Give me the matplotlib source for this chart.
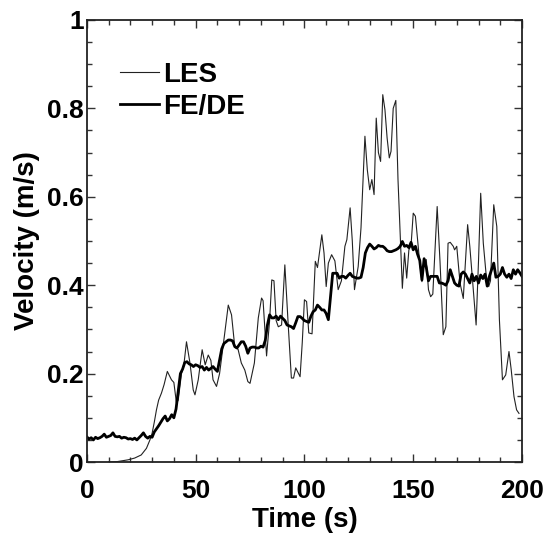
import matplotlib
matplotlib.use("Agg")
import matplotlib.pyplot as plt
from matplotlib.ticker import MultipleLocator, FixedLocator, FixedFormatter

les_t = [10, 14, 19, 22, 25, 27.4, 29, 30, 31, 32, 33, 34.3, 35.5, 37, 38.9, 40, 41.2, 42, 43.5, 44.7,
         45.8, 47.4, 48.9, 49.7, 51.2, 53, 54.4, 55.8, 57, 58, 59.6, 61, 62.7, 65, 66.5, 68, 69.5, 71,
         72.6, 74, 75, 77, 78.8, 80.3, 81, 82.6, 84, 85, 86, 87, 88, 89.5, 91, 92.6, 94, 95, 96, 98, 99,
         100, 101, 102, 103.5, 105, 106, 108, 109, 110, 111, 112.5, 114, 115.5, 117, 118.6, 119.5, 121,
         122, 123, 124.7, 126, 127.8, 128.9, 130, 131, 132, 133, 134, 135, 136, 137, 138, 139, 139.8,
         140.8, 142, 143, 145, 146, 147, 148, 149, 150, 151, 152.3, 153, 154, 155, 156, 157, 158, 159,
         161, 162.3, 163.8, 165, 166, 167, 168.4, 169, 170, 171.5, 173, 175, 176, 177.6, 178.9, 180,
         181, 182.2, 183.5, 184.7, 185.5, 187, 188.4, 189.6, 191, 192.5, 194, 195, 196.3, 197.5, 198.6]
les_v = [0.0, 0.001, 0.005, 0.009, 0.016, 0.031, 0.05, 0.065, 0.09, 0.118, 0.14, 0.156, 0.175, 0.205,
         0.186, 0.18, 0.133, 0.14, 0.20, 0.224, 0.272, 0.224, 0.163, 0.152, 0.186, 0.254, 0.22, 0.242,
         0.23, 0.186, 0.171, 0.2, 0.265, 0.355, 0.333, 0.26, 0.255, 0.224, 0.208, 0.182, 0.178, 0.224,
         0.326, 0.371, 0.365, 0.24, 0.32, 0.412, 0.41, 0.32, 0.306, 0.31, 0.446, 0.306, 0.19, 0.19,
         0.213, 0.193, 0.27, 0.367, 0.363, 0.292, 0.29, 0.454, 0.44, 0.514, 0.473, 0.397, 0.45, 0.469,
         0.455, 0.39, 0.41, 0.488, 0.503, 0.575, 0.50, 0.39, 0.442, 0.53, 0.737, 0.661, 0.616, 0.639,
         0.605, 0.778, 0.70, 0.68, 0.831, 0.797, 0.733, 0.688, 0.703, 0.80, 0.818, 0.639, 0.393, 0.473,
         0.416, 0.48, 0.49, 0.563, 0.556, 0.488, 0.45, 0.408, 0.455, 0.458, 0.39, 0.374, 0.38, 0.578,
         0.454, 0.288, 0.306, 0.495, 0.497, 0.488, 0.48, 0.488, 0.405, 0.37, 0.537, 0.488, 0.39, 0.31,
         0.455, 0.608, 0.495, 0.424, 0.397, 0.41, 0.582, 0.533, 0.322, 0.186, 0.197, 0.25, 0.21, 0.148,
         0.118, 0.11]

fede_t = list(range(0, 201))
fede_v = [0.057, 0.052, 0.055, 0.050, 0.056, 0.053, 0.055, 0.058, 0.063, 0.056,
          0.058, 0.060, 0.066, 0.058, 0.057, 0.058, 0.054, 0.056, 0.055, 0.052,
          0.053, 0.051, 0.054, 0.050, 0.055, 0.060, 0.066, 0.058, 0.054, 0.058,
          0.056, 0.068, 0.075, 0.082, 0.090, 0.098, 0.104, 0.093, 0.098, 0.107,
          0.100, 0.120, 0.160, 0.200, 0.210, 0.225, 0.227, 0.222, 0.220, 0.216,
          0.220, 0.218, 0.214, 0.216, 0.208, 0.214, 0.208, 0.212, 0.216, 0.210,
          0.205, 0.230, 0.256, 0.268, 0.272, 0.276, 0.276, 0.274, 0.261, 0.258,
          0.265, 0.272, 0.272, 0.262, 0.246, 0.258, 0.260, 0.260, 0.258, 0.258,
          0.262, 0.260, 0.275, 0.310, 0.333, 0.326, 0.326, 0.330, 0.322, 0.330,
          0.325, 0.320, 0.310, 0.308, 0.306, 0.302, 0.315, 0.329, 0.329, 0.325,
          0.320, 0.318, 0.316, 0.330, 0.340, 0.344, 0.355, 0.350, 0.344, 0.344,
          0.336, 0.322, 0.375, 0.427, 0.427, 0.427, 0.416, 0.420, 0.420, 0.416,
          0.422, 0.427, 0.420, 0.418, 0.416, 0.416, 0.418, 0.440, 0.473, 0.485,
          0.493, 0.488, 0.482, 0.485, 0.490, 0.488, 0.488, 0.484, 0.478, 0.476,
          0.476, 0.478, 0.480, 0.483, 0.488, 0.499, 0.488, 0.490, 0.485, 0.497,
          0.480, 0.488, 0.470, 0.456, 0.412, 0.460, 0.440, 0.410, 0.420, 0.420,
          0.420, 0.420, 0.405, 0.405, 0.403, 0.400, 0.410, 0.435, 0.420, 0.405,
          0.400, 0.398, 0.425, 0.430, 0.425, 0.415, 0.405, 0.425, 0.410, 0.420,
          0.405, 0.423, 0.415, 0.425, 0.398, 0.420, 0.435, 0.450, 0.418, 0.420,
          0.425, 0.440, 0.425, 0.418, 0.425, 0.415, 0.435, 0.425, 0.435, 0.428,
          0.420]

x_ticks = [0, 50, 100, 150, 200]
x_labels = ["0", "50", "100", "150", "200"]
y_ticks = [0, 0.2, 0.4, 0.6, 0.8, 1.0]
y_labels = ["0", "0.2", "0.4", "0.6", "0.8", "1"]

plt.rcParams['font.family'] = ['Liberation Sans', 'DejaVu Sans']
plt.rcParams['font.weight'] = 'bold'

fig = plt.figure(figsize=(5.53, 5.40), dpi=100)
ax = fig.add_axes([0.157, 0.1444, 0.787, 0.8186])

ax.plot(les_t, les_v, color='#222222', lw=0.8, label='LES')
ax.plot(fede_t, fede_v, color='black', lw=2.0, label='FE/DE')

ax.set_xlim(0, 200)
ax.set_ylim(0, 1)
ax.xaxis.set_major_locator(FixedLocator(x_ticks))
ax.xaxis.set_major_formatter(FixedFormatter(x_labels))
ax.yaxis.set_major_locator(FixedLocator(y_ticks))
ax.yaxis.set_major_formatter(FixedFormatter(y_labels))
ax.xaxis.set_minor_locator(MultipleLocator(10))
ax.yaxis.set_minor_locator(MultipleLocator(0.05))
ax.tick_params(which='both', direction='in', top=True, right=True, width=1.0, color='#333333')
ax.tick_params(which='major', length=6, labelsize=19)
ax.tick_params(axis='y', which='major', pad=2)
ax.tick_params(axis='x', which='major', pad=12)
ax.tick_params(which='minor', length=3.6)
for lab in ax.get_xticklabels() + ax.get_yticklabels():
    lab.set_fontweight('bold')
for sp in ax.spines.values():
    sp.set_linewidth(1.3)
    sp.set_color('#222222')

ax.set_xlabel('Time (s)', fontsize=20, fontweight='bold', labelpad=3)
ax.set_ylabel('Velocity (m/s)', fontsize=20, fontweight='bold', labelpad=5)

leg = ax.legend(loc='upper left', bbox_to_anchor=(0.076, 0.905), frameon=False,
                prop={'size': 20, 'weight': 'bold'}, handlelength=1.4,
                handletextpad=0.15, labelspacing=0.2, borderpad=0, borderaxespad=0)

fig.savefig('out.png', dpi=100)
